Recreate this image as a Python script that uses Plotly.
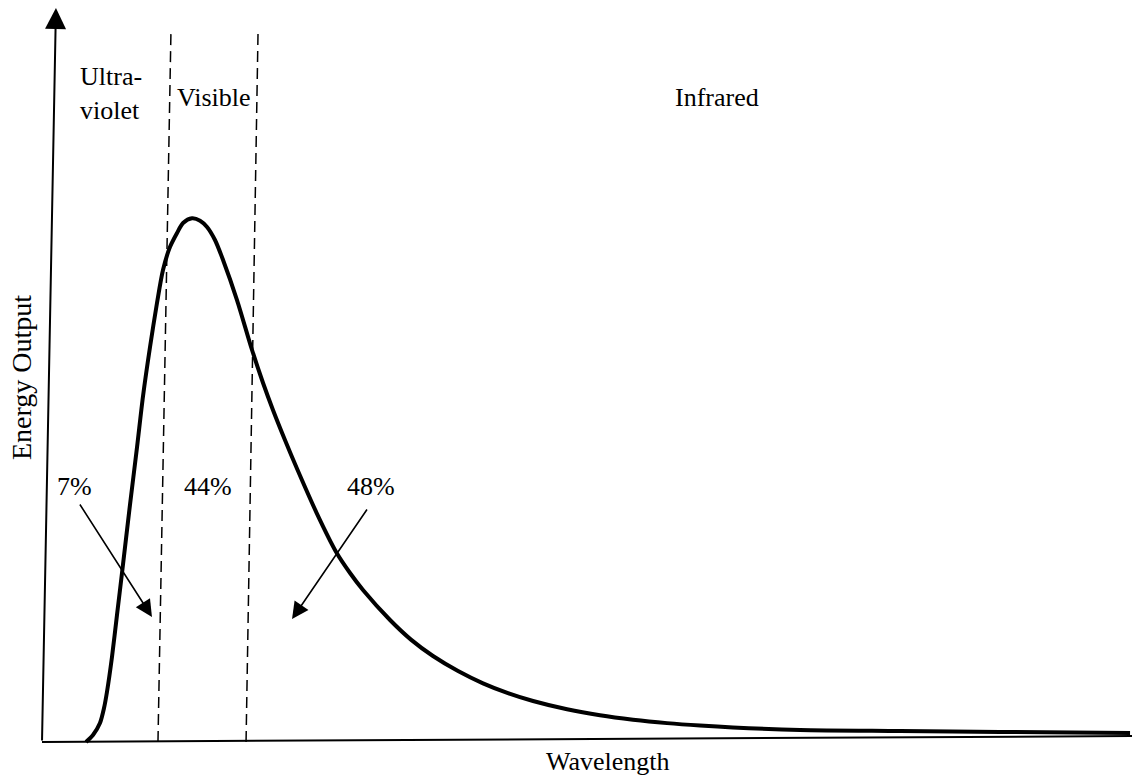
import plotly.graph_objects as go

# Spectral energy curve (arbitrary units)
wavelength = [4.04, 4.68, 5.32, 5.69, 5.96, 6.42, 6.88, 7.34, 8.07, 8.72, 9.27, 9.91,
              10.55, 11.10, 11.74, 12.39, 12.94, 13.76, 14.50, 15.14, 15.87, 16.61,
              17.89, 19.27, 20.28, 21.19, 22.29, 23.37, 25.20, 27.04, 28.26, 29.45,
              31.93, 33.85, 35.87, 38.17, 40.46, 42.75, 45.05, 48.17, 51.19, 54.22,
              57.34, 60.37, 63.39, 69.54, 78.72, 87.89, 99.82]
energy = [0.0, 0.96, 2.60, 4.64, 6.83, 11.61, 17.35, 23.09, 32.38, 40.30, 47.27, 53.96,
          59.97, 64.48, 67.62, 69.54, 70.90, 71.54, 71.22, 70.36, 68.58, 65.85,
          60.38, 53.55, 49.04, 45.36, 41.26, 37.43, 31.28, 25.82, 23.09, 20.77,
          16.67, 13.99, 11.75, 9.70, 8.02, 6.68, 5.60, 4.47, 3.65, 3.05,
          2.58, 2.24, 1.98, 1.64, 1.50, 1.37, 1.23]

# Region boundaries (bottom, top x positions; the scan is slightly tilted)
boundary_bottom = [10.64, 18.72]
boundary_top = [11.83, 19.82]

region_labels = ["Ultra-<br>violet", "Visible", "Infrared"]
region_label_x = [6.33, 15.78, 61.93]
region_label_y = [88.66, 88.11, 87.98]

share_labels = ["7%", "44%", "48%"]
share_label_x = [2.94, 15.23, 30.18]
share_label_y = [34.84, 34.84, 34.84]

FONT = "Liberation Serif, Times New Roman, serif"

fig = go.Figure()
fig.add_trace(go.Scatter(
    x=wavelength, y=energy, mode="lines",
    line=dict(color="black", width=4, shape="spline", smoothing=0.8),
    hoverinfo="skip", showlegend=False))

# x axis line (slightly tilted as in the scan)
fig.add_shape(type="line", x0=0, y0=0, x1=100, y1=0.82, xref="x", yref="y",
              line=dict(color="black", width=2))

# dashed boundaries
for xb, xt in zip(boundary_bottom, boundary_top):
    fig.add_shape(type="line", x0=xb, y0=0, x1=xt, y1=97.0, xref="x", yref="y",
                  line=dict(color="black", width=1.5, dash="11px,6px"))

# y axis with arrow
fig.add_annotation(x=1.28, y=100.27, ax=0, ay=0, xref="x", yref="y",
                   axref="x", ayref="y", text="", showarrow=True,
                   arrowhead=2, arrowwidth=2, arrowsize=2.1, arrowcolor="black",
                   standoff=0, startstandoff=0)

for t, x, y in zip(region_labels, region_label_x, region_label_y):
    fig.add_annotation(x=x, y=y, xref="x", yref="y", text=t, showarrow=False,
                       font=dict(family=FONT, size=26, color="black"),
                       align="left")

for t, x, y in zip(share_labels, share_label_x, share_label_y):
    fig.add_annotation(x=x, y=y, xref="x", yref="y", text=t, showarrow=False,
                       font=dict(family=FONT, size=26, color="black"))

# pointer arrows
fig.add_annotation(x=10.09, y=17.08, ax=3.39, ay=32.65, xref="x", yref="y",
                   axref="x", ayref="y", text="", showarrow=True,
                   arrowhead=2, arrowwidth=1.6, arrowsize=2.1, arrowcolor="black",
                   standoff=0)
fig.add_annotation(x=22.94, y=16.8, ax=29.91, ay=31.97, xref="x", yref="y",
                   axref="x", ayref="y", text="", showarrow=True,
                   arrowhead=2, arrowwidth=1.6, arrowsize=2.1, arrowcolor="black",
                   standoff=0)

# axis titles
fig.add_annotation(x=-1.83, y=49.73, xref="x", yref="y", text="Energy Output",
                   showarrow=False, textangle=-90,
                   font=dict(family=FONT, size=28, color="black"))
fig.add_annotation(x=51.93, y=-2.73, xref="x", yref="y", text="Wavelength",
                   showarrow=False,
                   font=dict(family=FONT, size=26, color="black"))

fig.update_xaxes(visible=False, range=[-3.853, 100.0], fixedrange=True)
fig.update_yaxes(visible=False, range=[-4.781, 101.366], fixedrange=True)
fig.update_layout(width=1132, height=777, margin=dict(l=0, r=0, t=0, b=0),
                  plot_bgcolor="white", paper_bgcolor="white", showlegend=False)

fig.write_html("out.html", config={"displayModeBar": False},
               post_script="document.body.style.margin='0';")
